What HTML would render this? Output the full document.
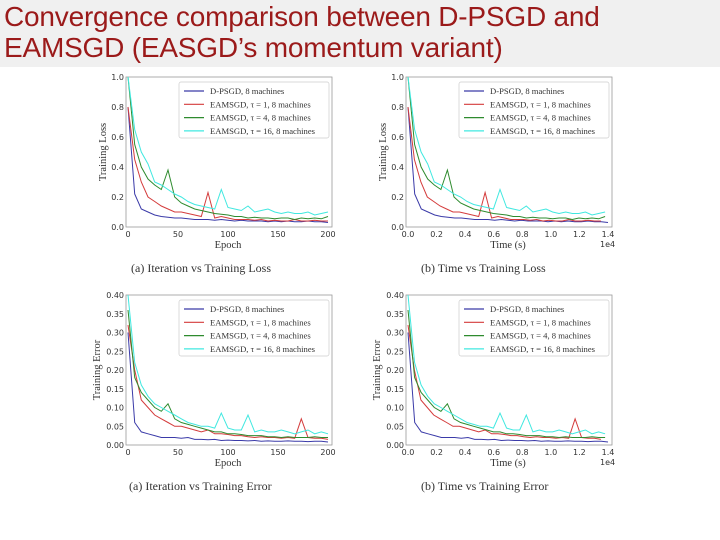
<!DOCTYPE html>
<html><head><meta charset="utf-8"><style>
body{margin:0;width:720px;height:540px;background:#fff;overflow:hidden;position:relative;font-family:"Liberation Sans",sans-serif}
#title{position:absolute;left:0;top:0;width:720px;height:67px;background:#f0f0f0}
#title div{position:absolute;left:4px;white-space:nowrap;color:#9b1a1a;font-size:28px;letter-spacing:-0.2px;line-height:30px}
svg{position:absolute;left:0;top:0}
</style></head><body>
<div id="title">
<div style="top:2px">Convergence comparison between D-PSGD and</div>
<div style="top:33px">EAMSGD (EASGD’s momentum variant)</div>
</div>
<svg id="s" width="720" height="540"></svg>
<script>
// Training loss per epoch (31 samples over 0..200 epochs)
const lossDpsgd=[0.8,0.22,0.12,0.1,0.08,0.07,0.065,0.06,0.06,0.055,0.05,0.05,0.05,0.045,0.05,0.045,0.04,0.045,0.04,0.04,0.04,0.035,0.04,0.035,0.04,0.035,0.035,0.04,0.035,0.035,0.03];
const lossE1=[0.8,0.45,0.3,0.2,0.17,0.14,0.12,0.1,0.1,0.09,0.08,0.07,0.23,0.06,0.07,0.06,0.05,0.05,0.05,0.045,0.05,0.04,0.045,0.04,0.04,0.05,0.04,0.04,0.045,0.04,0.04];
const lossE4=[1.0,0.55,0.4,0.32,0.28,0.25,0.38,0.2,0.16,0.14,0.12,0.11,0.1,0.09,0.085,0.08,0.07,0.07,0.06,0.065,0.06,0.06,0.055,0.06,0.06,0.05,0.06,0.055,0.06,0.055,0.07];
const lossE16=[1.0,0.65,0.5,0.42,0.3,0.28,0.25,0.22,0.2,0.17,0.15,0.14,0.13,0.12,0.25,0.13,0.12,0.11,0.14,0.1,0.11,0.12,0.1,0.09,0.1,0.09,0.09,0.1,0.08,0.09,0.1];
// Training error per epoch
const errDpsgd=[0.3,0.06,0.035,0.03,0.025,0.02,0.02,0.02,0.018,0.02,0.015,0.015,0.014,0.015,0.012,0.013,0.012,0.012,0.011,0.012,0.01,0.011,0.01,0.01,0.011,0.01,0.01,0.009,0.01,0.01,0.008];
const errE1=[0.32,0.2,0.12,0.1,0.08,0.07,0.06,0.05,0.05,0.045,0.04,0.035,0.04,0.03,0.03,0.028,0.025,0.025,0.022,0.02,0.022,0.02,0.02,0.018,0.02,0.018,0.07,0.02,0.018,0.018,0.015];
const errE4=[0.36,0.18,0.14,0.12,0.1,0.09,0.11,0.07,0.06,0.055,0.05,0.045,0.04,0.035,0.035,0.03,0.03,0.028,0.025,0.025,0.025,0.022,0.022,0.02,0.022,0.02,0.02,0.02,0.022,0.02,0.02];
const errE16=[0.4,0.22,0.16,0.13,0.11,0.1,0.09,0.08,0.07,0.06,0.055,0.05,0.05,0.045,0.085,0.045,0.04,0.04,0.08,0.035,0.04,0.035,0.035,0.04,0.035,0.03,0.035,0.04,0.03,0.035,0.03];
// total wall time (1e4 s) per series in time plots
const endTimes=[1.4,1.35,1.38,1.38];
const seriesNames=["D-PSGD, 8 machines","EAMSGD, τ = 1, 8 machines","EAMSGD, τ = 4, 8 machines","EAMSGD, τ = 16, 8 machines"];
const colors=["#3a3aa8","#d43c3c","#2e8b2e","#40e8e0"];
const epochTicks=[0,50,100,150,200];
const timeTicks=[0.0,0.2,0.4,0.6,0.8,1.0,1.2,1.4];
const lossTicks=[0.0,0.2,0.4,0.6,0.8,1.0];
const errTicks=[0.00,0.05,0.10,0.15,0.20,0.25,0.30,0.35,0.40];

const S=document.getElementById('s');const NS='http://www.w3.org/2000/svg';
function mk(t,a,p){const e=document.createElementNS(NS,t);for(const k in a)e.setAttribute(k,a[k]);(p||S).appendChild(e);return e;}
function chart(cfg){
  const g=mk('g',{});
  
  
  const x0=cfg.x,x1=cfg.x+200,y0=cfg.y+150,y1=cfg.y;
  const sx=v=>x0+(v-cfg.xmin)/(cfg.xmax-cfg.xmin)*(x1-x0);
  const sy=v=>y0-(v-cfg.ymin)/(cfg.ymax-cfg.ymin)*(y0-y1);
  const fr=mk('rect',{x:x0-2,y:y1,width:x1-x0+6,height:y0-y1,fill:'#fff',stroke:'#999','stroke-width':0.8},g);
  
  
  cfg.series.forEach((arr,si)=>{
    const tEnd=cfg.time?endTimes[si]:200;
    let d='';arr.forEach((v,i)=>{const xv=i/(arr.length-1)*tEnd;d+=(i?'L':'M')+sx(xv).toFixed(1)+','+sy(v).toFixed(1);});
    const p=mk('path',{d:d,fill:'none',stroke:colors[si],'stroke-width':1},g);
    
    
  });
  cfg.xticks.forEach(t=>{const tx=mk('text',{x:sx(t),y:y0+10,'font-size':8,'text-anchor':'middle',fill:'#333','font-family':'DejaVu Sans'},g);tx.textContent=cfg.time?t.toFixed(1):t;
    
    });
  cfg.yticks.forEach(t=>{const tx=mk('text',{x:x0-4,y:sy(t)+3,'font-size':8,'text-anchor':'end',fill:'#333','font-family':'DejaVu Sans'},g);tx.textContent=t.toFixed(cfg.dec);
    
    });
  const xl=mk('text',{x:(x0+x1)/2,y:y0+21,'font-size':10.5,'text-anchor':'middle',fill:'#333','font-family':'Liberation Serif'},g);xl.textContent=cfg.xlabel;
  
  
  if(cfg.time){const e=mk('text',{x:x1-8,y:y0+20,'font-size':8,fill:'#333','font-family':'DejaVu Sans'},g);e.textContent='1e4';
    
    }
  const yl=mk('text',{x:0,y:0,'font-size':10.5,'text-anchor':'middle',fill:'#333','font-family':'Liberation Serif',transform:`translate(${cfg.yLabX},${(y0+y1)/2}) rotate(-90)`},g);yl.textContent=cfg.ylabel;
  
  
  const lg=mk('g',{},g);
  
  
  mk('rect',{x:x0+51,y:y1+5,width:150,height:56,fill:'#fff',stroke:'#ccc','stroke-width':0.7,rx:2},lg);
  seriesNames.forEach((n,i)=>{const yy=y1+14+i*13.3;
    mk('line',{x1:x0+56,x2:x0+76,y1:yy,y2:yy,stroke:colors[i],'stroke-width':1.2},lg);
    const t=mk('text',{x:x0+82,y:yy+3,'font-size':8.6,fill:'#333','font-family':'Liberation Serif'},lg);t.textContent=n;
    
    });
  const c=mk('text',{x:cfg.capX,y:y0+45,'font-size':12,fill:'#333','font-family':'Liberation Serif'},g);c.textContent=cfg.caption;
  
  
}
chart({name:'chart-epoch-loss',x:128,y:77,xmin:0,xmax:200,ymin:0,ymax:1,xticks:epochTicks,yticks:lossTicks,dec:1,series:[lossDpsgd,lossE1,lossE4,lossE16],time:false,xlabel:'Epoch',ylabel:'Training Loss',yLabX:106,caption:'(a) Iteration vs Training Loss',capX:131});
chart({name:'chart-time-loss',x:408,y:77,xmin:0,xmax:1.4,ymin:0,ymax:1,xticks:timeTicks,yticks:lossTicks,dec:1,series:[lossDpsgd,lossE1,lossE4,lossE16],time:true,xlabel:'Time (s)',ylabel:'Training Loss',yLabX:386,caption:'(b) Time vs Training Loss',capX:421});
chart({name:'chart-epoch-error',x:128,y:295,xmin:0,xmax:200,ymin:0,ymax:0.4,xticks:epochTicks,yticks:errTicks,dec:2,series:[errDpsgd,errE1,errE4,errE16],time:false,xlabel:'Epoch',ylabel:'Training Error',yLabX:100,caption:'(a) Iteration vs Training Error',capX:129});
chart({name:'chart-time-error',x:408,y:295,xmin:0,xmax:1.4,ymin:0,ymax:0.4,xticks:timeTicks,yticks:errTicks,dec:2,series:[errDpsgd,errE1,errE4,errE16],time:true,xlabel:'Time (s)',ylabel:'Training Error',yLabX:380,caption:'(b) Time vs Training Error',capX:421});
</script>
</body></html>
